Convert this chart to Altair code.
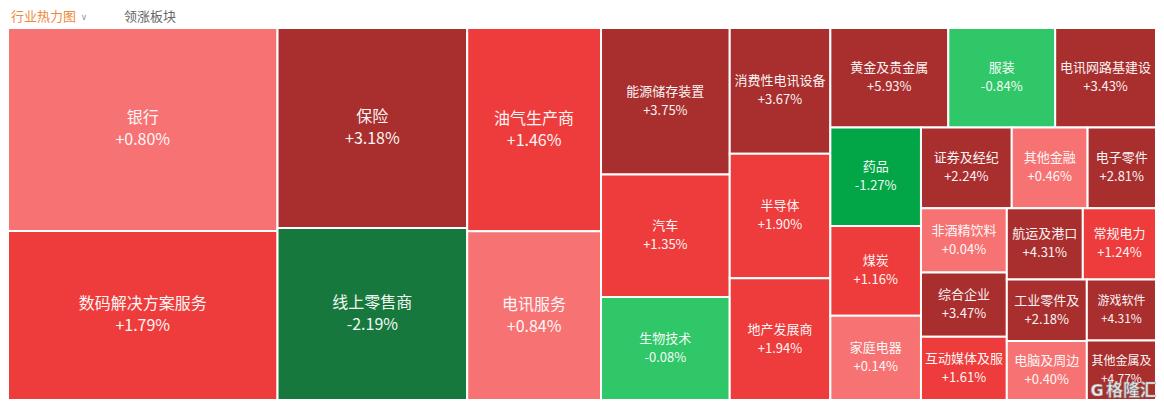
import altair as alt
import pandas as pd

# ---------------- data ----------------
names = ["银行", "数码解决方案服务", "保险", "线上零售商", "油气生产商", "电讯服务",
         "能源储存装置", "汽车", "生物技术", "消费性电讯设备", "半导体", "地产发展商",
         "黄金及贵金属", "服装", "电讯网路基建设", "药品", "煤炭", "家庭电器",
         "证券及经纪", "其他金融", "电子零件", "非酒精饮料", "综合企业", "互动媒体及服",
         "航运及港口", "常规电力", "工业零件及", "电脑及周边", "游戏软件", "其他金属及"]
changes = [0.80, 1.79, 3.18, -2.19, 1.46, 0.84,
           3.75, 1.35, -0.08, 3.67, 1.90, 1.94,
           5.93, -0.84, 3.43, -1.27, 1.16, 0.14,
           2.24, 0.46, 2.81, 0.04, 3.47, 1.61,
           4.31, 1.24, 2.18, 0.40, 4.31, 4.77]
# relative size (market-cap weight) of each sector, estimated from tile areas
weights = [545, 454, 378, 325, 271, 225,
           188, 157, 132, 126, 125, 122,
           117, 106, 100, 89, 81, 76,
           73, 61, 55, 55, 55, 54,
           54, 52, 49, 47, 42, 41]

tab_labels = ["行业热力图", "领涨板块"]
watermark = ["格隆汇"]

# ---------------- squarified treemap layout ----------------
W, H = 1148.0, 372.0
total = float(sum(weights))
areas = [w_ * W * H / total for w_ in weights]


def worst(row, side):
    s = sum(row)
    return max(side * side * max(row) / (s * s), (s * s) / (side * side * min(row)))


def squarify(areas, x, y, w, h):
    rects = []
    i, n = 0, len(areas)
    while i < n:
        side = min(w, h)
        row = [areas[i]]
        best = worst(row, side)
        j = i + 1
        while j < n:
            cand = row + [areas[j]]
            sc = worst(cand, side)
            if sc <= best:
                row, best = cand, sc
                j += 1
            else:
                break
        s = sum(row)
        if w >= h:
            cw = s / h
            yy = y
            for a in row:
                rh = a / cw
                rects.append((x, yy, x + cw, yy + rh))
                yy += rh
            x += cw
            w -= cw
        else:
            rh = s / w
            xx = x
            for a in row:
                rw = a / rh
                rects.append((xx, y, xx + rw, y + rh))
                xx += rw
            y += rh
            h -= rh
        i = j
    return rects


rects = squarify(areas, 0.0, 0.0, W, H)

rows = []
for nm, ch, a, (x0, y0, x1, y1) in zip(names, changes, areas, rects):
    if a > 20000:
        fs, off = 16, 11
    elif a < 4300:
        fs, off = 12, 9
    else:
        fs, off = 13, 9.5
    cy = (y0 + y1) / 2
    rows.append(dict(name=nm, change=ch, val=f"{ch:+.2f}%",
                     x0=x0, x1=x1, y0=y0, y1=y1,
                     cx=(x0 + x1) / 2, ny=cy - off, vy=cy + off, fs=fs))
df = pd.DataFrame(rows)

xs = alt.Scale(domain=[0, W], nice=False, zero=False)
ys = alt.Scale(domain=[0, H], nice=False, zero=False, reverse=True)

color_scale = alt.Scale(type="threshold", domain=[-2, -1, 0, 1, 2],
                        range=["#16783C", "#02A646", "#2FC768",
                               "#F77272", "#EE3C3C", "#A92E2E"])

base = alt.Chart(df)

tiles = base.mark_rect(stroke="white", strokeWidth=2).encode(
    x=alt.X("x0:Q", scale=xs, axis=None),
    x2="x1:Q",
    y=alt.Y("y0:Q", scale=ys, axis=None),
    y2="y1:Q",
    color=alt.Color("change:Q", scale=color_scale, legend=None),
)

font = "Noto Sans CJK SC"
name_txt = base.mark_text(color="white", font=font, align="center",
                          baseline="middle", opacity=0.95).encode(
    x=alt.X("cx:Q", scale=xs, axis=None),
    y=alt.Y("ny:Q", scale=ys, axis=None),
    text="name:N",
    size=alt.Size("fs:Q", scale=None, legend=None),
)
val_txt = base.mark_text(color="white", font=font, align="center",
                         baseline="middle", opacity=0.95).encode(
    x=alt.X("cx:Q", scale=xs, axis=None),
    y=alt.Y("vy:Q", scale=ys, axis=None),
    text="val:N",
    size=alt.Size("fs:Q", scale=None, legend=None),
)

tab1 = alt.Chart(pd.DataFrame({"t": [tab_labels[0]]})).mark_text(
    color="#EE8A3C", font=font, fontSize=13, align="left", baseline="middle"
).encode(x=alt.value(3), y=alt.value(-11), text="t:N")
chevron = alt.Chart(pd.DataFrame({"t": ["∨"]})).mark_text(
    color="#8E9BB0", font="DejaVu Sans", fontSize=9, align="center", baseline="middle"
).encode(x=alt.value(76), y=alt.value(-11), text="t:N")
tab2 = alt.Chart(pd.DataFrame({"t": [tab_labels[1]]})).mark_text(
    color="#666666", font=font, fontSize=13, align="left", baseline="middle"
).encode(x=alt.value(116), y=alt.value(-11), text="t:N")

wm_icon = alt.Chart(pd.DataFrame({"t": ["G"]})).mark_text(
    color="#EEEEEE", stroke="#8A8A8A", strokeWidth=0.6, font="DejaVu Sans",
    fontSize=16, fontWeight="bold", align="center", baseline="middle"
).encode(x=alt.value(1089), y=alt.value(363), text="t:N")
wm_text = alt.Chart(pd.DataFrame({"t": watermark})).mark_text(
    color="#EEEEEE", stroke="#8A8A8A", strokeWidth=0.6, font=font,
    fontSize=17, fontWeight="bold", align="left", baseline="middle"
).encode(x=alt.value(1098), y=alt.value(363), text="t:N")

chart = alt.layer(tiles, name_txt, val_txt, tab1, chevron, tab2, wm_icon, wm_text).properties(
    width=W, height=H,
    autosize=alt.AutoSizeParams(type="none"),
    padding={"left": 0, "top": 20, "right": 0, "bottom": 4},
    background="white",
).configure_view(stroke=None)

chart.save("out.html", embed_options={"renderer": "svg", "actions": False})
